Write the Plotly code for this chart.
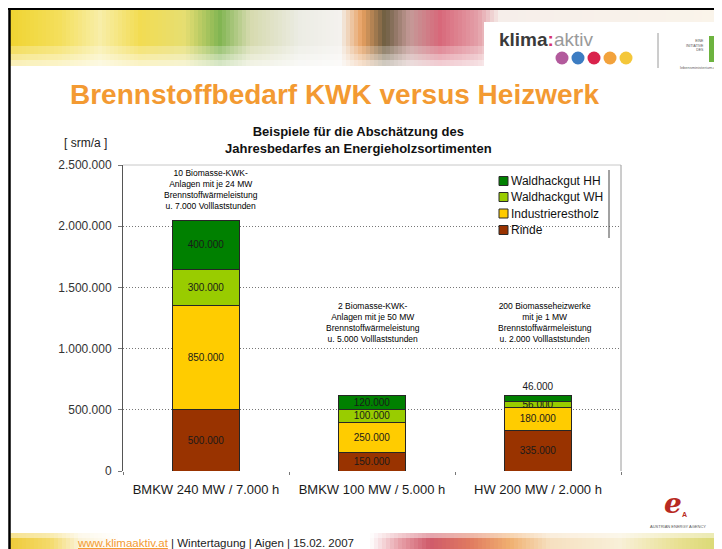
import plotly.graph_objects as go

# ---------------- data ----------------
categories = ["BMKW 240 MW / 7.000 h", "BMKW 100 MW / 5.000 h", "HW 200 MW / 2.000 h"]
rinde = [500000, 150000, 335000]
industrierestholz = [850000, 250000, 180000]
waldhackgut_wh = [300000, 100000, 56000]
waldhackgut_hh = [400000, 120000, 46000]
series_names = ["Rinde", "Industrierestholz", "Waldhackgut WH", "Waldhackgut HH"]
series_values = [rinde, industrierestholz, waldhackgut_wh, waldhackgut_hh]
series_colors = ["#993300", "#FFCC00", "#99CC00", "#008000"]
y_ticks = [0, 500000, 1000000, 1500000, 2000000, 2500000]
notes = [
    "10 Biomasse-KWK-<br>Anlagen mit je 24 MW<br>Brennstoffwärmeleistung<br>u. 7.000 Volllaststunden",
    "2 Biomasse-KWK-<br>Anlagen mit je 50 MW<br>Brennstoffwärmeleistung<br>u. 5.000 Volllaststunden",
    "200 Biomasseheizwerke<br>mit je 1 MW<br>Brennstoffwärmeleistung<br>u. 2.000 Volllaststunden",
]
note_levels = [2296000, 1217000, 1217000]

FONT = "Liberation Sans, Arial, sans-serif"
# the page body has an 8px margin, so the figure starts at (8, 8) of the window
OFF = 8
W, H = 722 - OFF, 549 - OFF
# plot area in window pixels
L, R, T, B = 123, 621, 165, 471


def xp(px):
    return (px - L) / (R - L)


def yp(py):
    return (B - py) / (B - T)


def hex2rgb(h):
    h = h.lstrip("#")
    return tuple(int(h[i:i + 2], 16) for i in (0, 2, 4))


def interp(stops, x):
    for (x0, c0), (x1, c1) in zip(stops, stops[1:]):
        if x0 <= x <= x1:
            t = (x - x0) / (x1 - x0) if x1 > x0 else 0
            a, b = hex2rgb(c0), hex2rgb(c1)
            return "rgb(%d,%d,%d)" % tuple(round(a[i] + (b[i] - a[i]) * t) for i in range(3))
    return stops[-1][1]


fig = go.Figure()

for name, vals, col in zip(series_names, series_values, series_colors):
    pos = ["inside"] * len(vals)
    if name == "Waldhackgut HH":
        pos = ["inside", "inside", "outside"]
    fig.add_trace(go.Bar(
        x=categories, y=vals, name=name, showlegend=False,
        marker=dict(color=col, line=dict(color="#262626", width=1)),
        texttemplate="%{y:,.0f}", textposition=pos,
        insidetextanchor="middle", textangle=0, constraintext="none",
        textfont=dict(family=FONT, size=10, color="#1a1a1a"),
        cliponaxis=False, hoverinfo="skip",
    ))

shapes = []
annotations = []

# header banner (gradient approximation)
top_stops = [(10, "#F0D431"), (60, "#F4DF5C"), (100, "#F8EEA8"), (140, "#F2DC52"),
             (185, "#E6DE72"), (220, "#82B552"), (250, "#D6DAAE"), (300, "#ECECE4"),
             (340, "#F4F2EE"), (362, "#E8A060"), (385, "#6E5E42"), (410, "#C59A98"),
             (440, "#D8687A"), (478, "#E4A0A8"), (500, "#F6EEEA"), (722, "#FAF4EA")]
step = 4
for x in range(10, 722, step):
    shapes.append(dict(type="rect", xref="paper", yref="paper", layer="below",
                       x0=xp(x), x1=xp(min(x + step, 722)), y0=yp(66), y1=yp(9),
                       fillcolor=interp(top_stops, x + step / 2), line=dict(width=0)))
for y0, y1, op in [(46, 66, 0.25), (54, 66, 0.3), (60, 66, 0.35)]:
    shapes.append(dict(type="rect", xref="paper", yref="paper", layer="below",
                       x0=xp(10), x1=xp(722), y0=yp(y1), y1=yp(y0),
                       fillcolor="white", opacity=op, line=dict(width=0)))
# logo box
shapes.append(dict(type="rect", xref="paper", yref="paper", layer="below",
                   x0=xp(484), x1=xp(722), y0=yp(74), y1=yp(22),
                   fillcolor="#FFFFFF", line=dict(width=0)))

# bottom banner
bot_stops = [(10, "#EFCB3A"), (50, "#F4DA6A"), (80, "#FBF3DA"), (120, "#FFFFFF"),
             (370, "#FFFFFF"), (400, "#E7A0A8"), (430, "#CF5A6A"), (470, "#E07A60"),
             (510, "#F0B070"), (550, "#F6E0C0"), (620, "#F8F0D8"), (680, "#E8E090"),
             (722, "#D8D870")]
for x in range(10, 722, step):
    shapes.append(dict(type="rect", xref="paper", yref="paper", layer="below",
                       x0=xp(x), x1=xp(min(x + step, 722)), y0=yp(549), y1=yp(533),
                       fillcolor=interp(bot_stops, x + step / 2), line=dict(width=0)))
shapes.append(dict(type="rect", xref="paper", yref="paper", layer="below",
                   x0=xp(10), x1=xp(722), y0=yp(538), y1=yp(533),
                   fillcolor="white", opacity=0.45, line=dict(width=0)))

# black frame
shapes.append(dict(type="line", xref="paper", yref="paper", x0=xp(9.5), x1=xp(9.5),
                   y0=yp(549), y1=yp(8), line=dict(color="#000000", width=2.5)))
shapes.append(dict(type="line", xref="paper", yref="paper", x0=xp(8), x1=xp(722),
                   y0=yp(9), y1=yp(9), line=dict(color="#000000", width=2)))

# klima:aktiv dots
for cx, col in zip([562, 578, 594, 610, 626],
                   ["#B25A9C", "#3C7CC2", "#D9234C", "#F2A23C", "#F4C73A"]):
    shapes.append(dict(type="circle", xref="paper", yref="paper",
                       x0=xp(cx - 6.5), x1=xp(cx + 6.5), y0=yp(64.5), y1=yp(51.5),
                       fillcolor=col, line=dict(width=0)))
shapes.append(dict(type="line", xref="paper", yref="paper", x0=xp(658), x1=xp(658),
                   y0=yp(68), y1=yp(33), line=dict(color="#9a9a9a", width=1)))
# small L logo
shapes.append(dict(type="rect", xref="paper", yref="paper", x0=xp(709), x1=xp(715),
                   y0=yp(62), y1=yp(36), fillcolor="#6DB33F", line=dict(width=0)))
shapes.append(dict(type="rect", xref="paper", yref="paper", x0=xp(709), x1=xp(722),
                   y0=yp(62), y1=yp(57), fillcolor="#6DB33F", line=dict(width=0)))

# plot frame lines
shapes.append(dict(type="line", xref="paper", yref="paper", x0=0, x1=1, y0=1, y1=1,
                   line=dict(color="#c8c8c8", width=1)))
shapes.append(dict(type="line", xref="paper", yref="paper", x0=1, x1=1, y0=0, y1=1,
                   line=dict(color="#9a9a9a", width=1)))
shapes.append(dict(type="line", xref="paper", yref="paper", x0=xp(609), x1=xp(609),
                   y0=yp(238), y1=yp(170), line=dict(color="#444444", width=1)))

# legend (top entry = top of the stack)
legend_rows = [181, 197, 213.5, 230]
for row_y, name, col in zip(legend_rows, series_names[::-1], series_colors[::-1]):
    shapes.append(dict(type="rect", xref="paper", yref="paper",
                       x0=xp(499), x1=xp(508), y0=yp(row_y + 4.5), y1=yp(row_y - 4.5),
                       fillcolor=col, line=dict(color="#2b2b2b", width=1)))
    annotations.append(dict(xref="paper", yref="paper", x=xp(509), y=yp(row_y),
                            xanchor="left", yanchor="middle", showarrow=False, text=name,
                            font=dict(family=FONT, size=12, color="#111111")))

# texts
annotations.append(dict(xref="paper", yref="paper", x=xp(68), y=yp(95), xanchor="left",
                        yanchor="middle", showarrow=False,
                        text="<b>Brennstoffbedarf KWK versus Heizwerk</b>",
                        font=dict(family=FONT, size=28, color="#F39A32")))
annotations.append(dict(xref="paper", yref="paper", x=xp(358), y=yp(140), xanchor="center",
                        yanchor="middle", showarrow=False,
                        text="<b>Beispiele für die Abschätzung des<br>Jahresbedarfes an Energieholzsortimenten</b>",
                        font=dict(family=FONT, size=13, color="#111111")))
annotations.append(dict(xref="paper", yref="paper", x=xp(62), y=yp(143), xanchor="left",
                        yanchor="middle", showarrow=False, text="[ srm/a ]",
                        font=dict(family=FONT, size=12, color="#222222")))
for cat, note, lvl, sh in zip(categories, notes, note_levels, [5, 1, 7]):
    annotations.append(dict(xref="x", yref="y", x=cat, y=lvl, xshift=sh, xanchor="center",
                            yanchor="middle", showarrow=False, text=note,
                            font=dict(family=FONT, size=8.5, color="#000000")))
# klima:aktiv
annotations.append(dict(xref="paper", yref="paper", x=xp(497), y=yp(40), xanchor="left",
                        yanchor="middle", showarrow=False,
                        text="<b>klima</b><b><span style='color:#D6336C'>:</span></b><span style='color:#9a9a9a'>aktiv</span>",
                        font=dict(family=FONT, size=19, color="#3a3a3a")))
annotations.append(dict(xref="paper", yref="paper", x=xp(706), y=yp(45), xanchor="right",
                        yanchor="middle", showarrow=False,
                        text="EINE<br>INITIATIVE<br>DES", align="right",
                        font=dict(family=FONT, size=3.5, color="#555555")))
annotations.append(dict(xref="paper", yref="paper", x=xp(699), y=yp(67), xanchor="center",
                        yanchor="middle", showarrow=False, text="lebensministerium.at",
                        font=dict(family=FONT, size=4, color="#666666")))
# footer
annotations.append(dict(xref="paper", yref="paper", x=xp(75), y=yp(543), xanchor="left",
                        yanchor="middle", showarrow=False,
                        text="<span style='color:#F39A32'><u>www.klimaaktiv.at</u></span> | Wintertagung | Aigen | 15.02. 2007",
                        font=dict(family=FONT, size=11.5, color="#222222")))
# energy agency logo
annotations.append(dict(xref="paper", yref="paper", x=xp(673), y=yp(503), xanchor="center",
                        yanchor="middle", showarrow=False, text="<b><i>e</i></b>",
                        font=dict(family="DejaVu Serif, serif", size=28, color="#B82A22")))
annotations.append(dict(xref="paper", yref="paper", x=xp(684), y=yp(514), xanchor="center",
                        yanchor="middle", showarrow=False, text="<b>A</b>",
                        font=dict(family=FONT, size=7, color="#B82A22")))
annotations.append(dict(xref="paper", yref="paper", x=xp(678), y=yp(526), xanchor="center",
                        yanchor="middle", showarrow=False, text="AUSTRIAN ENERGY AGENCY",
                        font=dict(family=FONT, size=4, color="#555555")))

fig.update_layout(
    width=W, height=H,
    margin=dict(l=L - OFF, r=722 - R, t=T - OFF, b=549 - B, pad=0),
    paper_bgcolor="white", plot_bgcolor="rgba(0,0,0,0)",
    barmode="stack", bargap=0.6,
    separators=",.",
    font=dict(family=FONT, size=12, color="#222222"),
    showlegend=False,
    uniformtext=dict(minsize=10, mode="show"),
    shapes=shapes, annotations=annotations,
    xaxis=dict(type="category", range=[-0.5, 2.5], showgrid=False, zeroline=False,
               showline=True, linecolor="white", linewidth=1,
               ticks="outside", tickson="boundaries", ticklen=3, tickcolor="#777777",
               ticklabelstandoff=6,
               tickfont=dict(family=FONT, size=13, color="#1a1a1a")),
    yaxis=dict(range=[0, 2500000], tickvals=y_ticks, tickformat=",d",
               showgrid=True, gridcolor="#777777", griddash="1px,2px", gridwidth=1,
               zeroline=False, showline=True, linecolor="#555555", linewidth=1,
               ticks="outside", ticklen=4, tickcolor="#777777",
               ticklabelstandoff=4,
               tickfont=dict(family=FONT, size=12, color="#333333")),
)

fig.write_html("out.html")
